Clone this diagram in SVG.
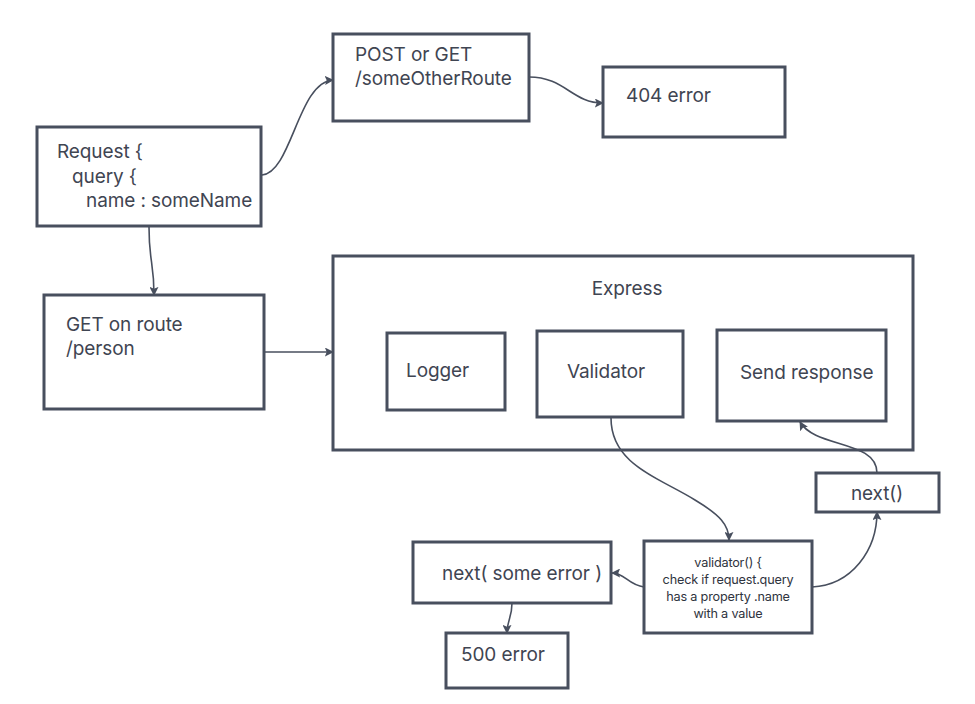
<svg xmlns="http://www.w3.org/2000/svg" width="975" height="704" viewBox="0 0 975 704">
<defs>
<marker id="ah" viewBox="0 0 10 10" refX="9" refY="5" markerWidth="9" markerHeight="9" markerUnits="userSpaceOnUse" orient="auto">
<path d="M0,0 L10,5 L0,10 L2,5 Z" fill="#484f5e"/>
</marker>
<style>
.box{fill:#ffffff;stroke:#484f5e;stroke-width:3}
.t{font-family:Inter,"Noto Sans","Liberation Sans",sans-serif;font-size:19px;fill:#3f4552;letter-spacing:-0.1px}
.s{font-family:Inter,"Noto Sans","Liberation Sans",sans-serif;font-size:12.7px;fill:#2f3440;text-anchor:middle;letter-spacing:-0.2px}
.c{fill:none;stroke:#484f5e;stroke-width:1.6;marker-end:url(#ah)}
</style>
</defs>
<rect width="975" height="704" fill="#ffffff"/>
<g id="request">
<rect class="box" x="37" y="127" width="224" height="99"/>
<text class="t" x="57" y="158">Request {</text>
<text class="t" x="72" y="183">query {</text>
<text class="t" x="86" y="207">name : someName</text>
</g>
<g id="other-route">
<rect class="box" x="333" y="34" width="196" height="87"/>
<text class="t" x="355" y="61">POST or GET</text>
<text class="t" x="355" y="85">/someOtherRoute</text>
</g>
<g id="error404">
<rect class="box" x="603" y="67" width="182" height="70"/>
<text class="t" x="626" y="102">404 error</text>
</g>
<g id="get-person">
<rect class="box" x="44" y="295" width="220" height="114"/>
<text class="t" x="66" y="331">GET on route</text>
<text class="t" x="66" y="355">/person</text>
</g>
<g id="express">
<rect class="box" x="333" y="256" width="580" height="194"/>
<text class="t" x="627" y="295" text-anchor="middle">Express</text>
</g>
<g id="logger">
<rect class="box" x="387" y="333" width="118" height="77"/>
<text class="t" x="406" y="377">Logger</text>
</g>
<g id="validator">
<rect class="box" x="537" y="331" width="146" height="86"/>
<text class="t" x="567" y="378">Validator</text>
</g>
<g id="send-response">
<rect class="box" x="717" y="330" width="169" height="91"/>
<text class="t" x="740" y="379">Send response</text>
</g>
<g id="next">
<rect class="box" x="816" y="473" width="123" height="39"/>
<text class="t" x="877" y="500" text-anchor="middle">next()</text>
</g>
<g id="validator-fn">
<rect class="box" x="644" y="541" width="168" height="92"/>
<text class="s" x="728" y="567">validator() {</text>
<text class="s" x="728" y="584">check if request.query</text>
<text class="s" x="728" y="601">has a property .name</text>
<text class="s" x="728" y="618">with a value</text>
</g>
<g id="next-error">
<rect class="box" x="413" y="542" width="198" height="61"/>
<text class="t" x="442" y="580">next( some error )</text>
</g>
<g id="error500">
<rect class="box" x="446" y="633" width="122" height="55"/>
<text class="t" x="461" y="661">500 error</text>
</g>
<g id="connectors">
<path class="c" d="M262,175 C292,172 298,82 333,80"/>
<path class="c" d="M529,77 C565,77 572,103 603,103"/>
<path class="c" d="M149,227 C149,262 154,262 154,295"/>
<path class="c" d="M265,352 L333,352"/>
<path class="c" d="M611,418 C611,465 660,478 695,500 C720,515 729,525 729,540"/>
<path class="c" d="M877,473 C877,440 815,448 800,422"/>
<path class="c" d="M812,587 C852,585 877,550 877,512"/>
<path class="c" d="M644,587 C628,585 625,573 612,573"/>
<path class="c" d="M512,603 C512,618 507,620 507,633"/>
</g>
</svg>
